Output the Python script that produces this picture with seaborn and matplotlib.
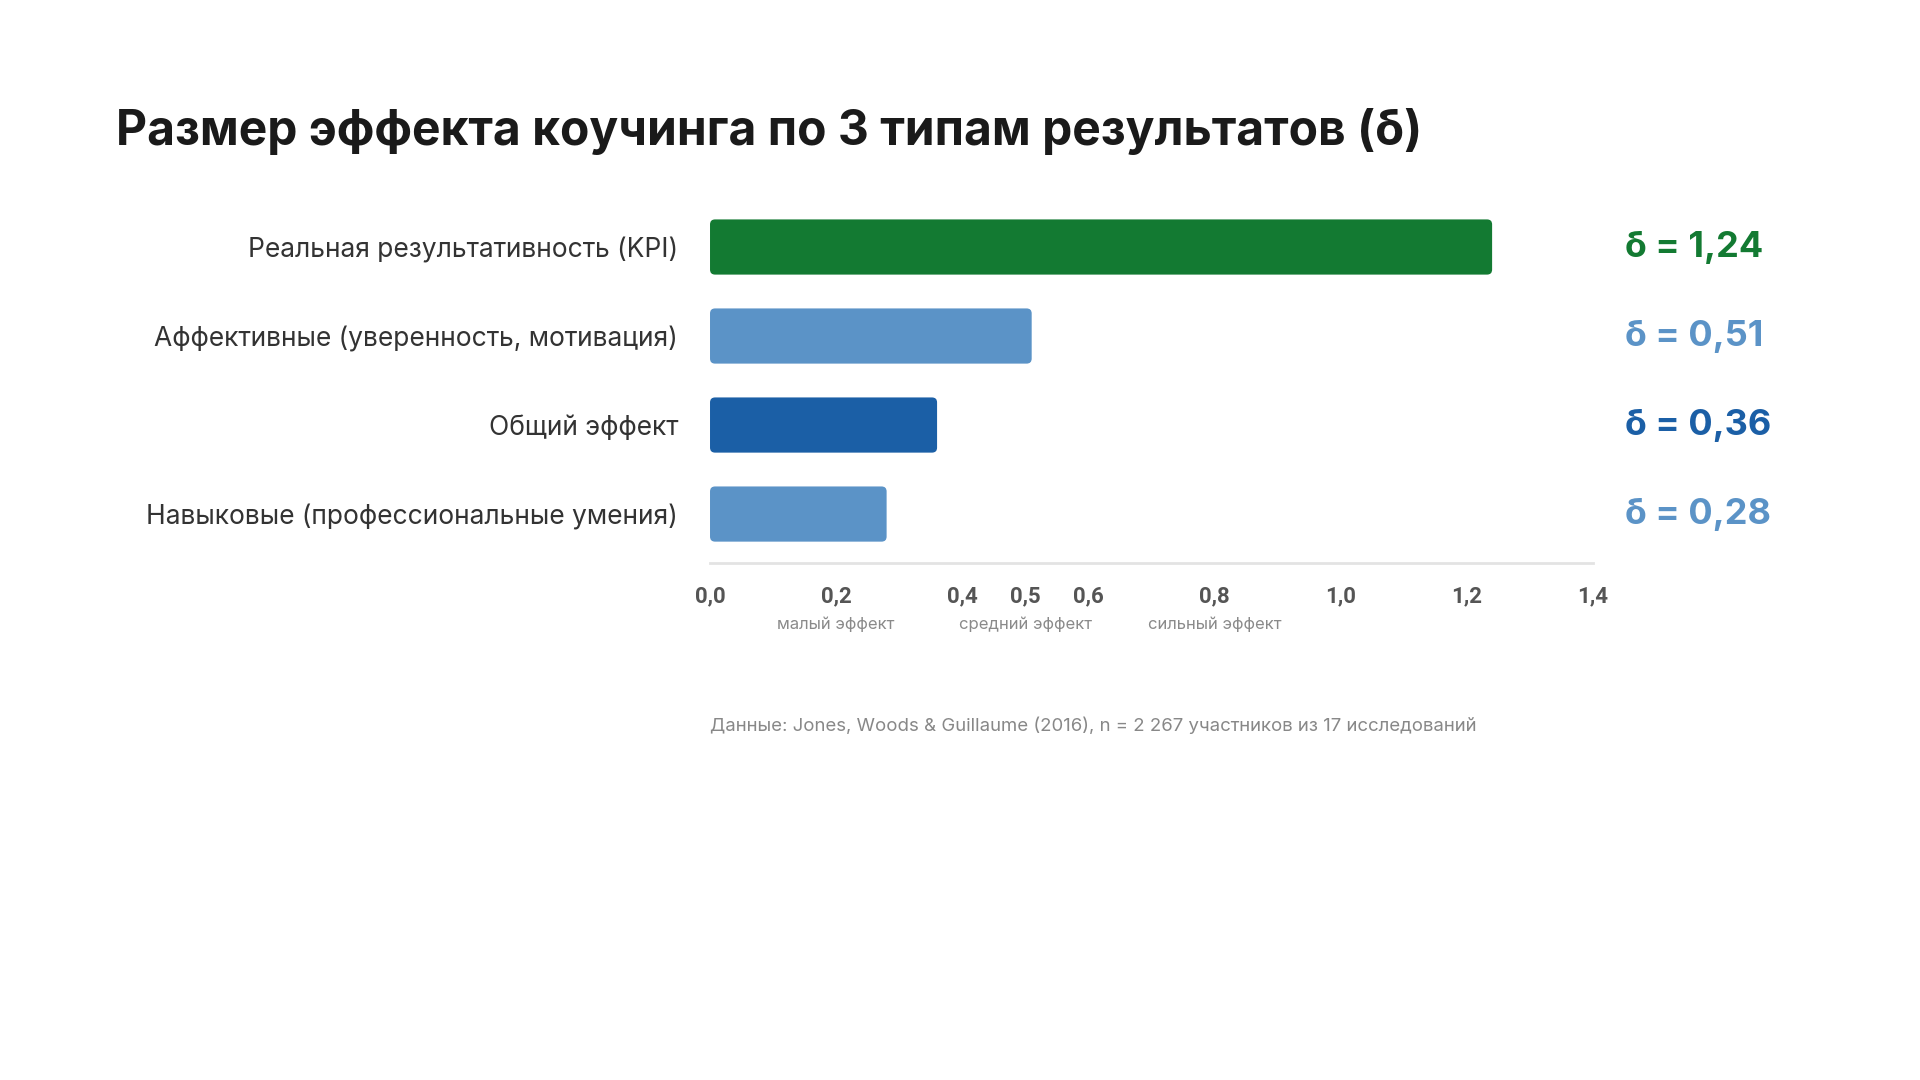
import matplotlib
matplotlib.use("Agg")
import matplotlib.pyplot as plt
import matplotlib.transforms as mtransforms
from matplotlib.patches import FancyBboxPatch
import pandas as pd
import seaborn as sns

# data
categories = [
    "Реальная результативность (KPI)",
    "Аффективные (уверенность, мотивация)",
    "Общий эффект",
    "Навыковые (профессиональные умения)",
]
effect_sizes = [1.24, 0.51, 0.36, 0.28]
bar_colors = ["#137a32", "#5b93c7", "#1b5fa6", "#5b93c7"]
value_labels = ["δ = 1,24", "δ = 0,51", "δ = 0,36", "δ = 0,28"]
tick_values = [0.0, 0.2, 0.4, 0.5, 0.6, 0.8, 1.0, 1.2, 1.4]
tick_labels = ["0,0", "0,2", "0,4", "0,5", "0,6", "0,8", "1,0", "1,2", "1,4"]
zone_positions = [0.2, 0.5, 0.8]
zone_labels = ["малый эффект", "средний эффект", "сильный эффект"]

title = "Размер эффекта коучинга по 3 типам результатов (δ)"
source = "Данные: Jones, Woods & Guillaume (2016), n = 2 267 участников из 17 исследований"

df = pd.DataFrame({"category": categories, "delta": effect_sizes})

sns.set_theme(style="white")
plt.rcParams["font.family"] = ["Inter", "DejaVu Sans"]

fig = plt.figure(figsize=(19.2, 10.8), dpi=100)
ax = fig.add_axes([0.3698, 0.4787, 0.4599, 0.3338])

sns.barplot(data=df, x="delta", y="category", hue="category",
            palette=dict(zip(categories, bar_colors)), legend=False,
            width=0.62, orient="h", ax=ax, saturation=1)

# rounded bars
ax.set_xlim(0, 1.4)
ax.set_ylim(3.55, -0.5)
x_px = ax.get_window_extent().width / 1.4
y_px = ax.get_window_extent().height / 4.05
for p, c in zip(ax.patches, bar_colors):
    x0, y0, w, h = p.get_x(), p.get_y(), p.get_width(), p.get_height()
    p.set_visible(False)
    ax.add_patch(FancyBboxPatch((x0, y0), w, h,
                                boxstyle="round,pad=0,rounding_size=0.008",
                                mutation_aspect=x_px / y_px,
                                facecolor=c, edgecolor="none"))

sns.despine(ax=ax, left=True, top=True, right=True)
ax.spines["bottom"].set_color("#e3e3e3")
ax.spines["bottom"].set_linewidth(2)

ax.set_xticks(tick_values)
ax.set_xticklabels(tick_labels, fontsize=16, fontweight="bold",
                   color="#555555", family=["Roboto", "DejaVu Sans"])
ax.tick_params(axis="x", length=0, pad=16)
ax.tick_params(axis="y", length=0, pad=23)
for lbl in ax.get_yticklabels():
    lbl.set_fontsize(19)
    lbl.set_color("#333333")
ax.set_xlabel("")
ax.set_ylabel("")

# effect zone captions under the ticks
trans = mtransforms.blended_transform_factory(ax.transData, ax.transAxes)
for xv, txt in zip(zone_positions, zone_labels):
    ax.text(xv, -0.17, txt, transform=trans, ha="center", va="center",
            fontsize=12, color="#8a8a8a")

# value labels on the right
trans_y = mtransforms.blended_transform_factory(fig.transFigure, ax.transData)
for i, (txt, c) in enumerate(zip(value_labels, bar_colors)):
    ax.text(0.8465, i, txt, transform=trans_y, ha="left", va="center",
            fontsize=26, fontweight="bold", color=c, clip_on=False)

fig.text(0.0604, 0.878, title, fontsize=34.5, fontweight="bold",
         color="#1a1a1a", ha="left", va="center")
fig.text(0.3698, 0.328, source, fontsize=13.4, color="#888888",
         ha="left", va="center")

fig.savefig("out.png", dpi=100, facecolor="white")
